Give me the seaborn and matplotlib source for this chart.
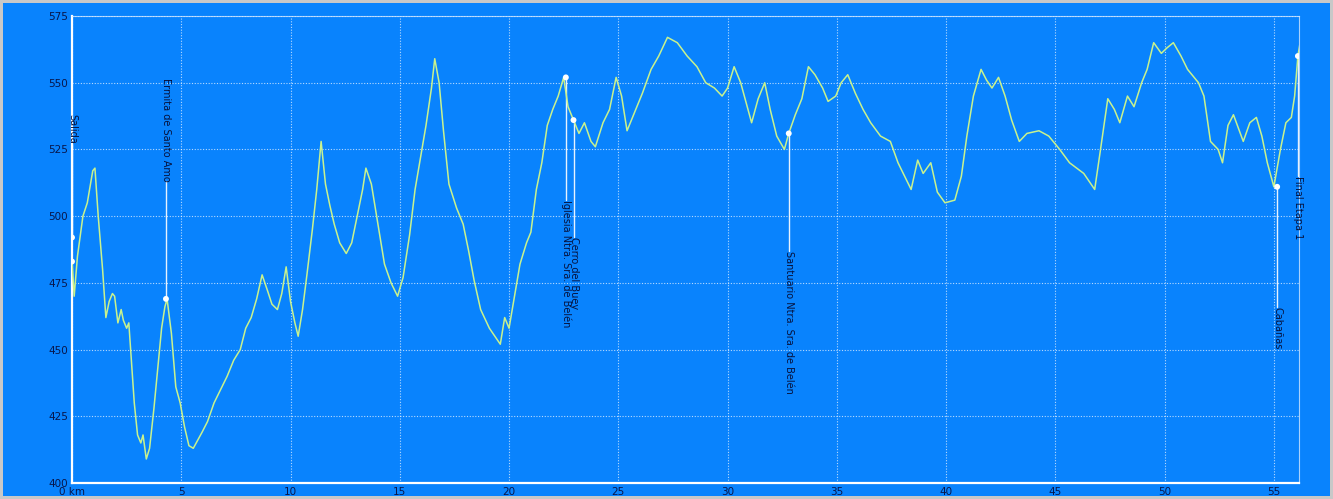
import matplotlib
matplotlib.use("Agg")
import matplotlib.pyplot as plt
import seaborn as sns
import pandas as pd

# ---- data ----
km = [0.0, 0.1, 0.25, 0.5, 0.7, 0.95, 1.05, 1.2, 1.4, 1.55,
      1.7, 1.85, 1.95, 2.1, 2.25, 2.35, 2.5, 2.6, 2.7, 2.85,
      3.0, 3.15, 3.25, 3.4, 3.55, 3.75, 3.95, 4.1, 4.25, 4.35,
      4.55, 4.75, 4.95, 5.15, 5.35, 5.55, 5.75, 5.95, 6.2, 6.5,
      6.8, 7.1, 7.4, 7.7, 7.95, 8.2, 8.45, 8.7, 8.95, 9.15,
      9.4, 9.6, 9.8, 10.0, 10.2, 10.35, 10.55, 10.75, 11.0, 11.2,
      11.4, 11.6, 11.8, 12.0, 12.25, 12.55, 12.8, 13.1, 13.3, 13.45,
      13.7, 14.0, 14.3, 14.6, 14.9, 15.15, 15.45, 15.7, 15.95, 16.2,
      16.45, 16.6, 16.8, 17.0, 17.25, 17.6, 17.9, 18.15, 18.4, 18.7,
      19.1, 19.6, 19.8, 20.0, 20.25, 20.5, 20.8, 21.0, 21.25, 21.5,
      21.75, 22.0, 22.25, 22.5, 22.7, 22.95, 23.2, 23.45, 23.75, 23.95,
      24.3, 24.6, 24.9, 25.15, 25.4, 25.75, 26.1, 26.5, 26.85, 27.25,
      27.7, 28.15, 28.6, 29.0, 29.4, 29.75, 30.0, 30.3, 30.6, 30.9,
      31.1, 31.4, 31.7, 31.95, 32.25, 32.6, 32.8, 33.1, 33.4, 33.7,
      34.0, 34.35, 34.6, 34.95, 35.2, 35.5, 35.85, 36.2, 36.55, 37.0,
      37.45, 37.8, 38.1, 38.4, 38.7, 38.95, 39.3, 39.6, 39.95, 40.4,
      40.7, 40.95, 41.25, 41.6, 41.85, 42.1, 42.4, 42.7, 43.0, 43.35,
      43.7, 44.25, 44.7, 45.2, 45.65, 46.3, 46.8, 47.05, 47.4, 47.7,
      47.95, 48.3, 48.6, 48.95, 49.2, 49.5, 49.85, 50.1, 50.4, 50.75,
      51.05, 51.55, 51.8, 52.1, 52.45, 52.65, 52.9, 53.15, 53.6, 53.9,
      54.2, 54.45, 54.7, 55.0, 55.3, 55.55, 55.8, 55.95, 56.1, 56.2]
elev = [483, 470, 485, 500, 505, 517, 518, 500, 480, 462,
        468, 471, 470, 460, 465, 461, 458, 460, 448, 430,
        418, 415, 418, 409, 413, 428, 445, 458, 466, 469,
        456, 436, 430, 421, 414, 413, 416, 419, 423, 430,
        435, 440, 446, 450, 458, 462, 469, 478, 472, 467,
        465, 471, 481, 468, 460, 455, 465, 478, 495, 510,
        528, 512, 504, 497, 490, 486, 490, 502, 510, 518,
        512, 497, 482, 475, 470, 477, 493, 510, 522, 534,
        548, 559, 550, 532, 512, 503, 497, 487, 476, 465,
        458, 452, 462, 458, 470, 482, 490, 494, 510, 520,
        534, 540, 545, 552, 541, 536, 531, 535, 528, 526,
        535, 540, 552, 545, 532, 539, 546, 555, 560, 567,
        565, 560, 556, 550, 548, 545, 548, 556, 550, 541,
        535, 544, 550, 540, 530, 525, 531, 538, 544, 556,
        553, 548, 543, 545, 550, 553, 546, 540, 535, 530,
        528, 520, 515, 510, 521, 516, 520, 509, 505, 506,
        515, 530, 545, 555, 551, 548, 552, 545, 536, 528,
        531, 532, 530, 525, 520, 516, 510, 524, 544, 540,
        535, 545, 541, 550, 555, 565, 561, 563, 565, 560,
        555, 550, 545, 528, 525, 520, 534, 538, 528, 535,
        537, 530, 520, 511, 525, 535, 537, 545, 560, 565]

wp_km = [0.0, 0.0, 4.3, 22.6, 22.95, 32.8, 55.15, 56.1]
wp_elev = [492, 483, 469, 552, 536, 531, 511, 560]
wp_names = ["Salida", "", "Ermita de Santo Amo", "Iglesia Ntra. Sra. de Belén", "Cerro del Buey",
            "Santuario Ntra. Sra. de Belén", "Cabañas", "Final Etapa 1"]

x_ticks = [0, 5, 10, 15, 20, 25, 30, 35, 40, 45, 50, 55]
x_tick_labels = ["0 km", "5", "10", "15", "20", "25", "30", "35", "40", "45", "50", "55"]
y_ticks = [400, 425, 450, 475, 500, 525, 550, 575]

# ---- layout (label anchor elevations, not data) ----
label_anchor = [527, None, 513, 506, 492, 487, 466, 515]
label_dir = ["up", None, "up", "down", "down", "down", "down", "down"]

BLUE = "#0983fd"
sns.set_theme(style="white")
plt.rcParams["font.family"] = ["DejaVu Sans"]

fig = plt.figure(figsize=(13.33, 4.99), dpi=100)
fig.patch.set_facecolor(BLUE)
fig.patch.set_edgecolor("#c8c8c8")
fig.patch.set_linewidth(4)
ax = fig.add_axes([72 / 1333, 1 - 483 / 499, (1299 - 72) / 1333, (483 - 16) / 499])
ax.set_facecolor(BLUE)

df = pd.DataFrame({"km": km, "elev": elev})
sns.lineplot(data=df, x="km", y="elev", ax=ax, color="#c8f28e", linewidth=1.1, zorder=3)

for k, e, name, anc, d in zip(wp_km, wp_elev, wp_names, label_anchor, label_dir):
    if anc is None:
        continue
    ax.plot([k, k], [e, anc], color="white", linewidth=1.0, alpha=0.9, zorder=2)
    ax.text(k, anc, name, rotation=-90, fontsize=7, color="#06123d",
            ha="center", va="bottom" if d == "up" else "top", zorder=4)

wdf = pd.DataFrame({"km": wp_km, "elev": wp_elev})
sns.scatterplot(data=wdf, x="km", y="elev", ax=ax, color="white", s=18, edgecolor="none", zorder=5)

ax.set_xlim(0, 56.15)
ax.set_ylim(400, 575)
ax.set_xticks(x_ticks)
ax.set_xticklabels(x_tick_labels)
ax.set_yticks(y_ticks)
ax.tick_params(axis="both", labelsize=7.5, labelcolor="#08164a", length=0, pad=3)
ax.set_xlabel("")
ax.set_ylabel("")
ax.grid(True, color="white", linestyle=(0, (1, 1.5)), linewidth=0.8, alpha=0.7)
for side in ["left", "bottom"]:
    ax.spines[side].set_color("white")
    ax.spines[side].set_linewidth(1.6)
for side in ["top", "right"]:
    ax.spines[side].set_color("#cfe6ff")
    ax.spines[side].set_linewidth(0.8)
    ax.spines[side].set_alpha(0.8)

fig.savefig("out.png", dpi=100, facecolor=fig.get_facecolor(), edgecolor=fig.get_edgecolor())
